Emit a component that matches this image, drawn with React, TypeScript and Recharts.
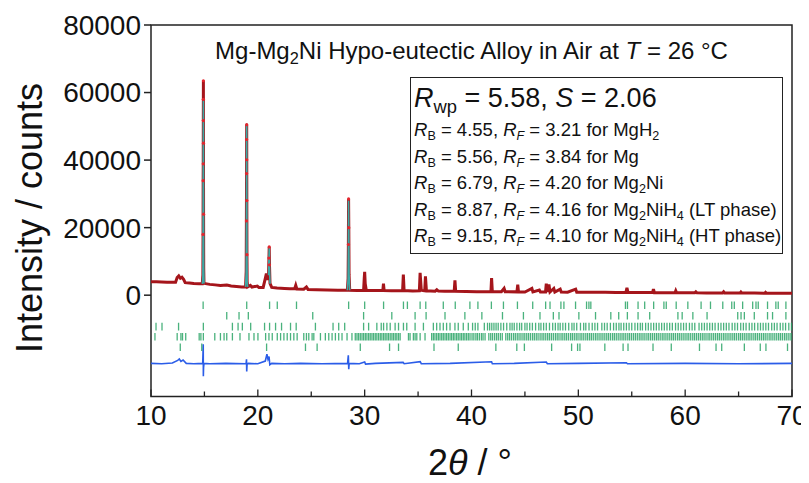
import React from "react";
import {
  ComposedChart,
  Line,
  Scatter,
  XAxis,
  YAxis,
  ReferenceArea,
} from "recharts";

// observed profile: 2θ (deg) and counts
const angles = [
  10.0, 10.5, 11.0, 11.5, 12.0, 12.3, 12.45, 12.6, 12.75, 12.9,
  13.05, 13.2, 13.6, 14.0, 14.5, 14.8, 14.855, 14.872, 14.882, 14.89,
  14.896, 14.9, 14.904, 14.912, 14.922, 14.935, 14.96, 15.5, 16.0, 16.5,
  17.1, 17.5, 18.0, 18.5, 18.85, 18.91, 18.93, 18.945, 18.952, 18.958,
  18.964, 18.97, 18.982, 19.0, 19.05, 19.3, 19.45, 19.95, 20.1, 20.5,
  20.7, 20.8, 20.9, 21.0, 21.04, 21.065, 21.09, 21.14, 21.3, 21.8,
  22.5, 23.0, 23.45, 23.55, 23.65, 24.3, 24.55, 24.7, 25.5, 26.5,
  27.5, 28.38, 28.45, 28.475, 28.495, 28.515, 28.54, 28.6, 29.3, 29.9,
  29.96, 30.0, 30.05, 30.15, 31.0, 31.7, 31.76, 31.82, 32.5, 33.55,
  33.62, 33.69, 34.5, 35.12, 35.19, 35.3, 35.45, 35.62, 35.69, 35.78,
  36.6, 36.75, 36.9, 37.5, 38.38, 38.45, 38.52, 39.5, 40.5, 41.0,
  41.82, 41.88, 41.95, 42.8, 43.05, 43.15, 44.25, 44.33, 44.4, 45.0,
  45.65, 45.75, 46.35, 46.45, 46.93, 47.0, 47.1, 47.25, 47.35, 47.7,
  47.8, 48.3, 48.4, 49.0, 49.75, 49.85, 50.5, 51.5, 52.5, 53.5,
  54.45, 54.55, 54.65, 55.5, 56.2, 56.95, 57.03, 57.12, 58.0, 59.05,
  59.12, 59.2, 60.0, 60.9, 61.0, 61.1, 62.0, 63.5, 63.6, 63.7,
  64.5, 65.15, 65.22, 65.3, 66.5, 67.45, 67.52, 67.6, 68.5, 69.3,
  70.0,
];
const observed = [
  4000, 3950, 3900, 3850, 3800, 3800, 5200, 5700, 5000, 5300,
  4700, 3700, 3600, 3450, 3350, 3350, 6000, 18000, 33900, 38900,
  51700, 58000, 63500, 45000, 24000, 8000, 3500, 3200, 3050, 2900,
  3000, 2750, 2600, 2450, 2450, 7000, 22000, 36000, 46100, 50500,
  40100, 28000, 12000, 4000, 2450, 2900, 2400, 2700, 2300, 2300,
  5000, 6400, 4500, 6000, 11000, 14300, 9000, 3500, 2300, 2150,
  2000, 1900, 1900, 2900, 1850, 1750, 2400, 1700, 1600, 1500,
  1450, 1450, 5000, 15000, 28500, 20000, 6000, 1450, 1400, 1450,
  5000, 6900, 3500, 1450, 1350, 1400, 3400, 1400, 1300, 1300,
  6100, 1350, 1250, 1300, 6600, 1500, 1350, 1300, 5600, 1300,
  1200, 1600, 1200, 1150, 1150, 4400, 1150, 1100, 1050, 1050,
  1050, 5100, 1050, 1000, 2000, 1000, 980, 3100, 980, 950,
  2000, 950, 1500, 940, 940, 3400, 950, 3200, 950, 2000,
  930, 1800, 920, 900, 1800, 890, 880, 860, 840, 820,
  800, 2200, 800, 780, 760, 760, 1800, 750, 730, 720,
  1300, 710, 700, 690, 1000, 690, 670, 660, 1000, 650,
  640, 630, 900, 630, 610, 600, 850, 600, 590, 580,
  570,
];

// calculated profile where it shows above the observed points (null = break)
const calcAngles = [
  14.8, 14.855, 14.872, 14.882, 14.89, 14.896, 14.9, 14.904, 14.912, 14.922, 14.935, 14.96,
  17.0,
  18.85, 18.91, 18.93, 18.945, 18.952, 18.958, 18.964, 18.97, 18.982, 19.0, 19.05,
  20.0,
  21.0, 21.04, 21.065, 21.09, 21.14,
  25.0,
  28.38, 28.45, 28.475, 28.495, 28.515, 28.54, 28.6,
];
const calcCounts = [
  3350, 5500, 17000, 33000, 40000, 52000, 57600, 57000, 46000, 25000, 8500, 3450,
  null,
  2450, 6500, 21000, 35500, 45800, 50800, 41000, 29000, 12500, 3800, 2450,
  null,
  5900, 10800, 14000, 9200, 3400,
  null,
  1450, 4800, 14500, 28000, 20500, 6200, 1450,
];

// difference curve (offset below the tick marks)
const diffAngles = [
  10, 11, 12, 12.5, 12.65, 12.8, 13.0, 13.3, 14.0, 14.84,
  14.87, 14.89, 14.9, 14.92, 14.96, 15.5, 17, 18.9, 18.94, 18.96,
  18.99, 19.1, 20.0, 20.7, 20.85, 20.95, 21.05, 21.12, 21.3, 22.5,
  24, 26, 28.4, 28.47, 28.51, 28.55, 29.5, 30.0, 30.08, 31,
  33.6, 33.7, 35.2, 35.3, 38, 41.88, 41.95, 44, 47.0, 47.1,
  50, 54.5, 54.6, 60, 65, 70,
];
const diffCounts = [
  -20200, -20300, -20100, -19300, -18900, -19600, -19200, -20200, -20300, -20200,
  -17000, -14500, -24000, -21500, -20200, -20300, -20200, -20300, -19000, -22600,
  -20500, -20200, -20300, -19500, -17500, -19000, -18200, -20600, -20200, -20300,
  -20200, -20300, -20200, -17800, -21900, -20200, -20300, -19800, -20400, -20200,
  -19900, -20300, -19700, -20300, -20200, -19700, -20300, -20200, -19800, -20300,
  -20200, -20000, -20300, -20200, -20300, -20200,
];

// reflection positions (2θ) for each phase row
const mgh2Ticks = [
  14.88, 18.96, 21.1, 21.82, 23.62, 28.5, 30.0, 31.77, 33.63, 34.0,
  35.19, 35.72, 37.36, 38.48, 39.85, 40.6, 41.86, 42.99, 44.3, 45.73,
  46.94, 47.35, 48.37, 48.65, 49.74, 50.77, 50.99, 51.17, 54.41, 54.6,
  55.59, 56.21, 57.05, 58.01, 58.23, 59.16, 60.25, 61.49, 62.37, 63.52,
  64.36, 64.6, 65.38, 66.32, 66.63, 66.84, 67.71, 68.49, 68.71, 69.43,
];
const mgTicks = [
  17.09, 18.24, 19.11, 25.14, 29.9, 32.54, 34.72, 35.75, 37.52, 39.38,
  40.97, 42.9, 44.86, 46.41, 47.66, 48.19, 50.05, 51.61, 53.04, 53.78,
  54.59, 55.59, 56.68, 59.32, 59.72, 60.72, 62.05, 64.92, 65.23, 65.54,
  66.47, 67.71, 68.18, 69.43,
];
const mg2niTicks = [
  10.47, 11.03, 12.58, 14.9, 17.62, 18.15, 18.55, 19.33, 20.63, 21.1,
  21.66, 22.22, 23.06, 23.59, 25.39, 27.04, 27.57, 28.13, 29.9, 30.37,
  31.14, 31.55, 31.77, 32.08, 32.39, 32.85, 33.17, 33.63, 33.94, 34.72,
  35.5, 36.43, 36.74, 37.05, 37.36, 37.67, 37.99, 38.45, 38.76, 39.23,
  39.7, 40.1, 40.35, 40.6, 41.2, 41.5, 41.7, 41.9, 42.1, 42.3,
  42.5, 42.75, 43.0, 43.3, 43.6, 43.8, 44.0, 44.25, 44.5, 44.7,
  45.0, 45.2, 45.45, 45.7, 46.0, 46.3, 46.5, 46.75, 47.0, 47.3,
  47.6, 47.85, 48.1, 48.3, 48.55, 48.8, 49.1, 49.4, 49.6, 49.85,
  50.2, 50.5, 50.7, 51.0, 51.3, 51.55, 51.8, 52.2, 52.45, 52.7,
  53.0, 53.3, 53.55, 53.8, 54.0, 54.25, 54.5, 54.75, 55.0, 55.3,
  55.55, 55.8, 56.0, 56.3, 56.55, 56.8, 57.05, 57.3, 57.55, 57.8,
  58.05, 58.3, 58.55, 58.8, 59.1, 59.35, 59.6, 59.85, 60.1, 60.4,
  60.65, 60.9, 61.3, 61.55, 61.8, 62.05, 62.3, 62.55, 62.8, 63.1,
  63.35, 63.6, 63.85, 64.1, 64.4, 64.65, 64.9, 65.2, 65.45, 65.7,
  66.0, 66.25, 66.5, 66.8, 67.05, 67.3, 67.55, 67.8, 68.1, 68.35,
  68.6, 68.9, 69.15, 69.4, 69.7, 69.95,
];
const ltHydrideTicks = [
  10.37, 12.45, 12.8, 12.95, 13.25, 14.51, 14.67, 14.9, 15.97, 16.5,
  16.84, 17.09, 17.62, 18.33, 19.17, 19.64, 20.01, 20.73, 21.04, 21.35,
  21.82, 22.13, 22.44, 22.75, 23.06, 23.37, 23.68, 24.3, 24.55, 24.77,
  25.08, 25.24, 25.86, 26.32, 26.64, 26.95, 27.26, 27.57, 27.88, 28.35,
  28.81, 29.12, 29.28, 29.43, 29.59, 29.75, 29.9, 30.06, 30.21, 30.37,
  30.52, 30.68, 30.83, 30.99, 31.14, 31.3, 31.46, 31.61, 31.77, 31.92,
  32.08, 32.23, 32.39, 32.55, 32.7, 32.86, 33.01, 33.17, 33.32, 34.1,
  34.25, 34.56, 34.72, 34.88, 35.19, 35.65, 36.27, 36.43, 36.58, 36.74,
  36.9, 37.05, 37.21, 37.36, 37.52, 37.67, 37.83, 37.99, 38.14, 38.3,
  38.45, 38.61, 38.76, 38.92, 39.07, 39.23, 39.38, 39.54, 39.7, 39.86,
  40.05, 40.22, 40.41, 40.56, 40.74, 40.93, 41.08, 41.27, 41.62, 41.8,
  41.97, 42.16, 42.34, 42.51, 42.7, 42.88, 43.21, 43.39, 43.56, 43.74,
  43.93, 44.1, 44.28, 44.45, 44.63, 44.82, 44.99, 45.17, 45.34, 45.52,
  45.71, 45.88, 46.06, 46.23, 46.42, 46.6, 46.77, 46.95, 47.13, 47.3,
  47.48, 47.66, 47.85, 48.02, 48.19, 48.38, 48.55, 48.73, 48.9, 49.08,
  49.27, 49.44, 49.62, 49.8, 49.97, 50.16, 50.33, 50.51, 50.7, 50.87,
  51.05, 51.22, 51.4, 51.59, 51.76, 51.94, 52.12, 52.3, 52.48, 52.66,
  52.83, 53.01, 53.2, 53.37, 53.55, 53.73, 53.91, 54.09, 54.26, 54.44,
  54.63, 54.8, 54.98, 55.16, 55.34, 55.52, 55.7, 55.87, 56.05, 56.23,
  56.42, 56.59, 56.77, 56.95, 57.13, 57.31, 57.48, 57.66, 57.85, 58.02,
  58.2, 58.38, 58.56, 58.74, 58.91, 59.09, 59.28, 59.45, 59.63, 59.81,
  59.99, 60.17, 60.34, 60.52, 60.71, 60.88, 61.06, 61.24, 61.42, 61.6,
  61.77, 61.95, 62.14, 62.31, 62.49, 62.67, 62.85, 63.03, 63.2, 63.38,
  63.57, 63.74, 63.92, 64.1, 64.28, 64.46, 64.63, 64.81, 65.0, 65.17,
  65.35, 65.53, 65.71, 65.89, 66.06, 66.24, 66.43, 66.6, 66.78, 66.96,
  67.14, 67.32, 67.49, 67.67, 67.86, 68.03, 68.21, 68.39, 68.57, 68.75,
  68.92, 69.1, 69.29, 69.46, 69.64, 69.82, 69.99,
];
const htHydrideTicks = [
  12.74, 14.75, 20.82, 24.46, 25.55, 29.59, 32.33, 33.17, 36.49, 38.76,
  42.28, 44.24, 44.95, 47.5, 49.37, 49.93, 50.15, 52.48, 54.19, 54.65,
  56.99, 58.7, 61.34, 62.89, 63.42, 65.54, 67.03, 67.56, 69.58,
];

// vertical offset (counts) of each tick row
const tickRows = [
  { phase: "MgH2", angles: mgh2Ticks, level: -3000 },
  { phase: "Mg", angles: mgTicks, level: -6100 },
  { phase: "Mg2Ni", angles: mg2niTicks, level: -9300 },
  { phase: "Mg2NiH4 LT", angles: ltHydrideTicks, level: -12300 },
  { phase: "Mg2NiH4 HT", angles: htHydrideTicks, level: -15400 },
];

const xTicks = [10, 15, 20, 25, 30, 35, 40, 45, 50, 55, 60, 65, 70];
const yTicks = [0, 20000, 40000, 60000, 80000];

const font = "'Liberation Sans', Arial, sans-serif";

const profile = angles.map((x, i) => ({ x, obs: observed[i] }));
const calcProfile = calcAngles.map((x, i) => ({ x, calc: calcCounts[i] }));
const diffProfile = diffAngles.map((x, i) => ({ x, diff: diffCounts[i] }));

const AngleTick = (props: any) => {
  const { x, y, payload } = props;
  const major = payload.value % 10 === 0;
  return (
    <g>
      <line x1={x} x2={x} y1={y} y2={y - (major ? 7 : 5)} stroke="#222" strokeWidth={1.3} />
      {major && (
        <text x={x} y={y + 28} textAnchor="middle" fontSize={28} fill="#111" fontFamily={font}>
          {payload.value}
        </text>
      )}
    </g>
  );
};

const TickMark = (props: any) => (
  <line
    x1={props.cx}
    x2={props.cx}
    y1={props.cy - 3.8}
    y2={props.cy + 3.8}
    stroke="#2aa566"
    strokeWidth={1.3}
    strokeOpacity={0.85}
  />
);

const ObsDot = (props: any) =>
  props.payload.obs > 8000 ? (
    <circle cx={props.cx} cy={props.cy} r={1.6} fill="#e3262e" />
  ) : (
    <g />
  );

const sub = { fontSize: "0.68em", verticalAlign: "-0.3em" } as const;

const statRows = [
  { rb: "4.55", rf: "3.21", phase: <>MgH<span style={sub}>2</span></> },
  { rb: "5.56", rf: "3.84", phase: <>Mg</> },
  { rb: "6.79", rf: "4.20", phase: <>Mg<span style={sub}>2</span>Ni</> },
  { rb: "8.87", rf: "4.16", phase: <>Mg<span style={sub}>2</span>NiH<span style={sub}>4</span> (LT phase)</> },
  { rb: "9.15", rf: "4.10", phase: <>Mg<span style={sub}>2</span>NiH<span style={sub}>4</span> (HT phase)</> },
];

export default function App() {
  return (
    <div style={{ position: "relative", width: 801, height: 475, fontFamily: font, color: "#111" }}>
      <ComposedChart
        width={801}
        height={475}
        margin={{ top: 17, right: 17, bottom: 16.5, left: 13 }}
        style={{ fontFamily: font }}
      >
        <XAxis
          type="number"
          dataKey="x"
          domain={[10, 70]}
          ticks={xTicks}
          interval={0}
          tickSize={0}
          tickMargin={0}
          height={70}
          axisLine={false}
          tick={<AngleTick />}
          allowDataOverflow
        />
        <YAxis
          type="number"
          domain={[-30000, 80000]}
          ticks={yTicks}
          interval={0}
          width={130}
          tickSize={7}
          tickMargin={3}
          axisLine={false}
          tickLine={{ stroke: "#222", strokeWidth: 1.5 }}
          tick={{ fontSize: 28, fill: "#111", fontFamily: font }}
          allowDataOverflow
        />
        <Line
          data={profile}
          dataKey="obs"
          type="linear"
          stroke="#a5151b"
          strokeWidth={3}
          dot={false}
          activeDot={false}
          isAnimationActive={false}
        />
        <Line
          data={calcProfile}
          dataKey="calc"
          type="linear"
          stroke="#3ba9a5"
          strokeWidth={1.6}
          dot={false}
          activeDot={false}
          connectNulls={false}
          isAnimationActive={false}
        />
        <Scatter data={profile} dataKey="obs" shape={ObsDot} isAnimationActive={false} />
        {tickRows.map((row) => (
          <Scatter
            key={row.phase}
            name={row.phase}
            data={row.angles.map((x) => ({ x, y: row.level }))}
            dataKey="y"
            shape={TickMark}
            isAnimationActive={false}
          />
        ))}
        <Line
          data={diffProfile}
          dataKey="diff"
          type="linear"
          stroke="#2b5de8"
          strokeWidth={1.6}
          dot={false}
          activeDot={false}
          isAnimationActive={false}
        />
        <ReferenceArea
          x1={10}
          x2={70}
          y1={-30000}
          y2={80000}
          fill="none"
          fillOpacity={0}
          stroke="#222"
          strokeWidth={1.5}
          strokeOpacity={1}
        />
      </ComposedChart>

      <div
        style={{
          position: "absolute",
          left: 143,
          width: 641,
          top: 31,
          textAlign: "center",
          fontSize: 24,
          lineHeight: 1,
          whiteSpace: "nowrap",
        }}
      >
        Mg-Mg<span style={sub}>2</span>Ni Hypo-eutectic Alloy in Air at <i>T</i> = 26 °C
      </div>

      <div
        style={{
          position: "absolute",
          left: 402,
          top: 69,
          width: 373,
          height: 177,
          border: "1.5px solid #222",
          background: "#fff",
          boxSizing: "border-box",
          whiteSpace: "nowrap",
        }}
      >
        <div style={{ position: "absolute", left: 3, top: 6.5, fontSize: 27, lineHeight: 1 }}>
          <i>R</i>
          <span style={sub}>wp</span> = 5.58, <i>S</i> = 2.06
        </div>
        {statRows.map((r, i) => (
          <div
            key={r.rb}
            style={{ position: "absolute", left: 3, top: 43 + i * 26.5, fontSize: 18.5, lineHeight: 1 }}
          >
            <i>R</i>
            <span style={sub}>B</span> = {r.rb}, <i>R</i>
            <i style={sub}>F</i> = {r.rf} for {r.phase}
          </div>
        ))}
      </div>

      <div
        style={{
          position: "absolute",
          left: -128,
          top: 192,
          width: 300,
          height: 36,
          lineHeight: "36px",
          fontSize: 36,
          textAlign: "center",
          transform: "rotate(-90deg)",
          whiteSpace: "nowrap",
        }}
      >
        Intensity / counts
      </div>

      <div
        style={{
          position: "absolute",
          left: 362,
          width: 200,
          top: 437,
          fontSize: 36,
          lineHeight: 1,
          textAlign: "center",
          whiteSpace: "nowrap",
        }}
      >
        2<i>θ</i> / °
      </div>
    </div>
  );
}
